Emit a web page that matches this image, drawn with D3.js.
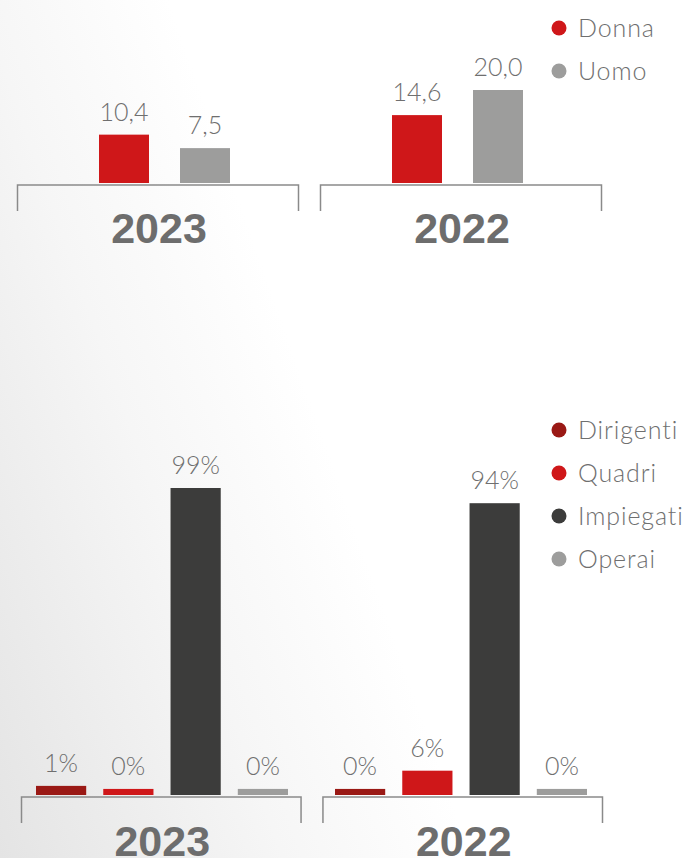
<!DOCTYPE html>
<html>
<head>
<meta charset="utf-8">
<script src="https://cdn.jsdelivr.net/npm/d3@7"></script>
<style>
  html, body { margin: 0; padding: 0; background: #fff; }
  svg { display: block; }
  .lbl { font-family: Lato, "Open Sans", sans-serif; fill: #6f6f6f; font-weight: 300; }
  .leg { letter-spacing: 0.9px; }
  .year { font-family: "Liberation Sans", Arial, sans-serif; font-weight: 700; fill: #6d6d6d; }
</style>
</head>
<body>
<svg id="chart" width="696" height="858"></svg>
<script>
// Years shown in both panels
const years = ["2023", "2022"];

// Panel 1: gender values
const genders = ["Donna", "Uomo"];
const genderColors = ["#cf1719", "#9d9d9c"];
const donna = [10.4, 14.6];
const uomo = [7.5, 20.0];
const genderLabels = [["10,4", "7,5"], ["14,6", "20,0"]];

// Panel 2: share by job level (%)
const levels = ["Dirigenti", "Quadri", "Impiegati", "Operai"];
const levelColors = ["#9a1915", "#cf1719", "#3c3c3b", "#9d9d9c"];
const dirigenti = [1, 0];
const quadri = [0, 6];
const impiegati = [99, 94];
const operai = [0, 0];

const svg = d3.select("#chart");

// soft grey sweep on the left side of the background
const defs = svg.append("defs");
const grad = defs.append("linearGradient")
  .attr("id", "bg").attr("gradientUnits", "userSpaceOnUse")
  .attr("x1", 0).attr("y1", 858).attr("x2", 560).attr("y2", 660);
grad.append("stop").attr("offset", 0).attr("stop-color", "#e4e4e4");
grad.append("stop").attr("offset", 0.45).attr("stop-color", "#f6f6f6");
grad.append("stop").attr("offset", 0.75).attr("stop-color", "#ffffff");
svg.append("rect").attr("width", 696).attr("height", 858).attr("fill", "url(#bg)");

function drawPanel(cfg) {
  const g = svg.append("g");
  // brackets and year captions
  const xBracket = d3.scaleBand().domain(years).range(cfg.bracketRange)
    .paddingInner(21 / 303).paddingOuter(0);
  // clusters of bars, one per year
  const xCluster = d3.scaleBand().domain(years).range(cfg.clusterRange)
    .paddingInner(cfg.clusterPad).paddingOuter(0);
  const xBar = d3.scaleBand().domain(cfg.keys).range([0, xCluster.bandwidth()])
    .paddingInner(cfg.innerPad).paddingOuter(0);
  const y = d3.scaleLinear().domain(cfg.yDomain).range([cfg.baseY, cfg.topY]);

  years.forEach((yr, i) => {
    const rows = cfg.keys.map((k, j) => ({
      key: k, value: cfg.series[j][i], color: cfg.colors[j],
      text: cfg.labels(i, j)
    }));
    const bars = g.append("g").attr("transform", `translate(${xCluster(yr)},0)`);
    bars.selectAll("rect.bar").data(rows).join("rect")
      .attr("class", "bar")
      .attr("x", d => xBar(d.key))
      .attr("width", xBar.bandwidth())
      .attr("y", d => y(d.value))
      .attr("height", d => y(cfg.yDomain[0]) - y(d.value))
      .attr("fill", d => d.color);
    bars.selectAll("text.val").data(rows).join("text")
      .attr("class", "lbl val")
      .attr("x", d => xBar(d.key) + xBar.bandwidth() / 2)
      .attr("y", d => y(d.value) - 14)
      .attr("text-anchor", "middle")
      .attr("font-size", 25)
      .text(d => d.text);

    const grp = g.append("g").attr("transform", `translate(${xBracket(yr)},0)`);
    const w = xBracket.bandwidth();
    grp.append("path")
      .attr("d", `M0.5,${cfg.bracketY + 26}V${cfg.bracketY}H${w - 0.5}V${cfg.bracketY + 26}`)
      .attr("fill", "none").attr("stroke", "#8a8a8a").attr("stroke-width", 1.5);
    grp.append("text").attr("class", "year")
      .attr("x", w / 2 + 1).attr("y", cfg.yearY)
      .attr("text-anchor", "middle").attr("font-size", 43)
      .text(yr);
  });

  // legend
  const lg = g.append("g");
  cfg.keys.forEach((k, j) => {
    const cy = cfg.legendY + j * 43;
    lg.append("circle").attr("cx", 559).attr("cy", cy).attr("r", 7.5)
      .attr("fill", cfg.colors[j]);
    lg.append("text").attr("class", "lbl leg")
      .attr("x", 578).attr("y", cy + 9)
      .attr("font-size", 25)
      .text(k);
  });
}

drawPanel({
  keys: genders, colors: genderColors, series: [donna, uomo],
  labels: (i, j) => genderLabels[i][j],
  bracketRange: [17, 602],
  clusterRange: [99, 523], clusterPad: 162 / 293, innerPad: 31 / 81,
  yDomain: [0, 20], baseY: 183, topY: 90,
  bracketY: 185, yearY: 243, legendY: 28
});

drawPanel({
  keys: levels, colors: levelColors, series: [dirigenti, quadri, impiegati, operai],
  labels: (i, j) => [dirigenti, quadri, impiegati, operai][j][i] + "%",
  bracketRange: [21, 603],
  clusterRange: [36, 587], clusterPad: 47 / 299, innerPad: 17 / 67,
  yDomain: [-2, 99], baseY: 795, topY: 488,
  bracketY: 797, yearY: 856, legendY: 430
});
</script>
</body>
</html>
